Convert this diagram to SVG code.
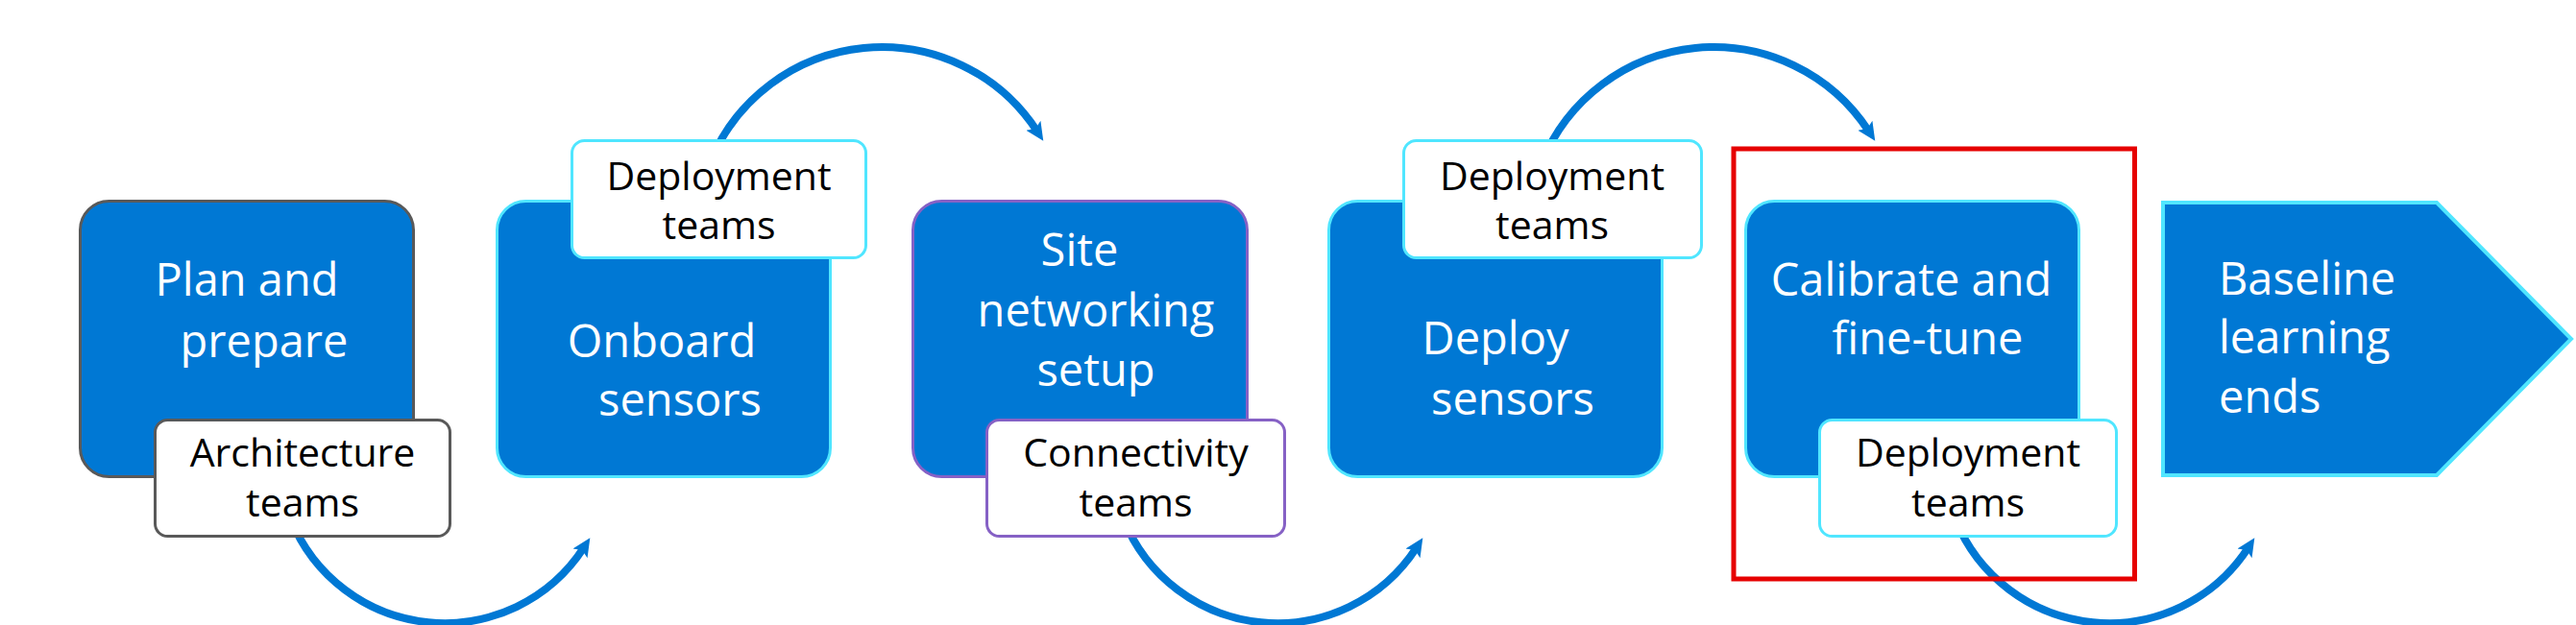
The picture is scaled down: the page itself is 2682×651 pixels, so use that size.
<svg xmlns="http://www.w3.org/2000/svg" width="2682" height="651" viewBox="0 0 2682 651">
<style>
.box{fill:#0078d4;stroke-width:3}
.lbl{fill:#ffffff;stroke-width:3}
.gray{stroke:#595959}
.cyan{stroke:#50e6ff}
.purple{stroke:#8661c5}
.main{font-family:"Open Sans","Noto Sans",sans-serif;font-size:47px;fill:#ffffff;text-anchor:middle}
.lt{font-family:"Open Sans","Noto Sans",sans-serif;font-size:41px;fill:#000000;text-anchor:middle}
.arc{fill:none;stroke:#0078d4;stroke-width:8;marker-end:url(#ah)}
</style>
<defs>
<marker id="ah" markerUnits="userSpaceOnUse" markerWidth="20" markerHeight="20" viewBox="0 0 20 20" refX="7" refY="10" orient="auto">
<path d="M0,1 L19,10 L0,19 L4,10 z" fill="#0078d4"/>
</marker>
</defs>
<g id="connectors">
<path class="arc" d="M 302.5 540 A 172.6 172.6 0 0 0 607.8 570.4"/>
<path class="arc" d="M 739 170 A 193 193 0 0 1 1079.7 136.6"/>
<path class="arc" d="M 1169.5 540 A 172.6 172.6 0 0 0 1474.8 570.4"/>
<path class="arc" d="M 1605 170 A 193 193 0 0 1 1945.7 136.6"/>
<path class="arc" d="M 2035.5 540 A 172.6 172.6 0 0 0 2340.8 570.4"/>
</g>
<g id="plan">
<rect class="box gray" x="83.5" y="209.5" width="347" height="287" rx="30"/>
<text class="main" x="257" y="308">Plan and</text>
<text class="main" x="275" y="372">prepare</text>
</g>
<g id="plan-team">
<rect class="lbl gray" x="161.5" y="437.5" width="307" height="121" rx="13"/>
<text class="lt" x="315" y="486">Architecture</text>
<text class="lt" x="315" y="538">teams</text>
</g>
<g id="onboard">
<rect class="box cyan" x="517.5" y="209.5" width="347" height="287" rx="30"/>
<text class="main" x="689" y="372">Onboard</text>
<text class="main" x="708" y="433">sensors</text>
</g>
<g id="onboard-team">
<rect class="lbl cyan" x="595.5" y="146.5" width="306" height="122" rx="13"/>
<text class="lt" x="748.5" y="198">Deployment</text>
<text class="lt" x="748.5" y="249">teams</text>
</g>
<g id="site">
<rect class="box purple" x="950.5" y="209.5" width="348" height="287" rx="30"/>
<text class="main" x="1124" y="277">Site</text>
<text class="main" x="1141" y="340">networking</text>
<text class="main" x="1141" y="402">setup</text>
</g>
<g id="site-team">
<rect class="lbl purple" x="1027.5" y="437.5" width="310" height="121" rx="13"/>
<text class="lt" x="1182.5" y="486">Connectivity</text>
<text class="lt" x="1182.5" y="538">teams</text>
</g>
<g id="deploy">
<rect class="box cyan" x="1383.5" y="209.5" width="347" height="287" rx="30"/>
<text class="main" x="1557" y="369">Deploy</text>
<text class="main" x="1575" y="432">sensors</text>
</g>
<g id="deploy-team">
<rect class="lbl cyan" x="1461.5" y="146.5" width="310" height="122" rx="13"/>
<text class="lt" x="1616" y="198">Deployment</text>
<text class="lt" x="1616" y="249">teams</text>
</g>
<g id="calibrate">
<rect class="box cyan" x="1817.5" y="209.5" width="347" height="287" rx="30"/>
<text class="main" x="1990" y="308">Calibrate and</text>
<text class="main" x="2007" y="369">fine-tune</text>
</g>
<g id="calibrate-team">
<rect class="lbl cyan" x="1894.5" y="437.5" width="309" height="121" rx="13"/>
<text class="lt" x="2049" y="486">Deployment</text>
<text class="lt" x="2049" y="538">teams</text>
</g>
<g id="baseline">
<polygon points="2252,211 2537,211 2677,353 2537,495 2252,495" fill="#0078d4" stroke="#50e6ff" stroke-width="4"/>
<text class="main" style="text-anchor:start" x="2310" y="307">Baseline</text>
<text class="main" style="text-anchor:start" x="2310" y="368">learning</text>
<text class="main" style="text-anchor:start" x="2310" y="430">ends</text>
</g>
<g id="highlight">
<rect x="1805" y="155" width="417.5" height="448" fill="none" stroke="#e60000" stroke-width="5"/>
</g>
</svg>
